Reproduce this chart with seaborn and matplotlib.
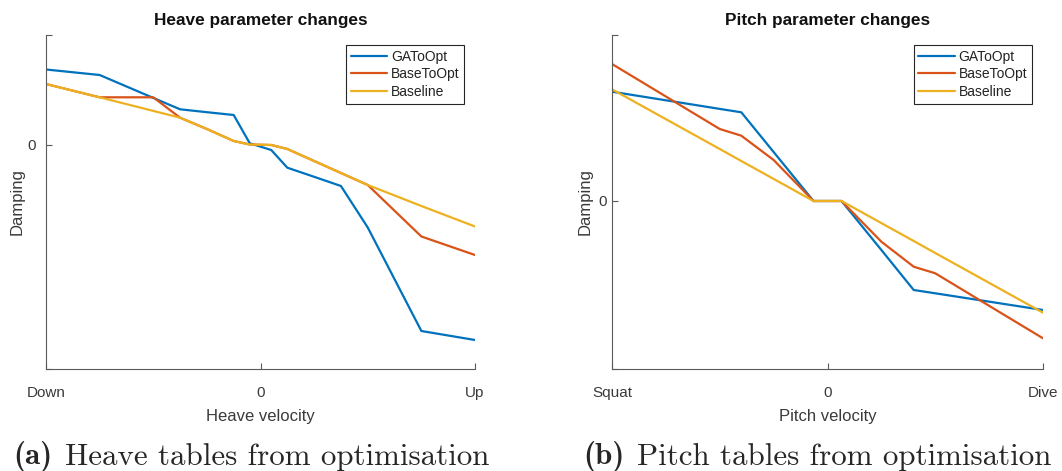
import matplotlib
matplotlib.use("Agg")
import matplotlib.pyplot as plt
import seaborn as sns
import pandas as pd

# ---- data ----
series_names = ["GAToOpt", "BaseToOpt", "Baseline"]
series_colors = ["#0072BD", "#D95319", "#EDB120"]

heave_x = [-1, -0.75, -0.5, -0.375, -0.25, -0.125, -0.05, 0.05, 0.125, 0.25, 0.375, 0.5, 0.75, 1]
heave_ga = [0.755, 0.70, 0.471, 0.357, 0.328, 0.30, 0.017, -0.05, -0.227, -0.318, -0.41, -0.825, -1.86, -1.95]
heave_base_to_opt = [0.61, 0.477, 0.477, 0.273, 0.16, 0.04, 0.005, 0.0, -0.04, -0.16, -0.28, -0.40, -0.915, -1.10]
heave_baseline = [0.61, 0.477, 0.341, 0.273, 0.16, 0.04, 0.005, 0.0, -0.04, -0.16, -0.28, -0.40, -0.61, -0.815]

pitch_x = [-1, -0.5, -0.4, -0.25, -0.065, 0.065, 0.25, 0.4, 0.5, 1]
pitch_ga = [1.093, 0.921, 0.887, 0.49, 0, 0, -0.49, -0.89, -0.923, -1.09]
pitch_base_to_opt = [1.37, 0.72, 0.653, 0.41, 0, 0, -0.407, -0.657, -0.723, -1.373]
pitch_baseline = [1.117, 0.52, 0.40, 0.221, 0, 0, -0.221, -0.40, -0.52, -1.117]

heave_xticklabels = ["Down", "0", "Up"]
pitch_xticklabels = ["Squat", "0", "Dive"]

sns.set_theme(style="white")
plt.rcParams["font.family"] = ["Liberation Sans", "DejaVu Sans"]

fig = plt.figure(figsize=(10.62, 4.71), dpi=100)
W, H = 1062, 471

def px_axes(l, r, t, b):
    return fig.add_axes([l / W, 1 - b / H, (r - l) / W, (b - t) / H])

ax1 = px_axes(46, 475, 35, 369)
ax2 = px_axes(612, 1043, 35, 369)

panels = [
    (ax1, heave_x, [heave_ga, heave_base_to_opt, heave_baseline], (-2.24, 1.10),
     "Heave parameter changes", "Heave velocity", heave_xticklabels, 7),
    (ax2, pitch_x, [pitch_ga, pitch_base_to_opt, pitch_baseline], (-1.68, 1.66),
     "Pitch parameter changes", "Pitch velocity", pitch_xticklabels, 4),
]

axis_col = "#5a5a5a"
text_col = "#3a3a3a"

for ax, xs, ys, ylim, title, xlabel, xtl, ypad in panels:
    frames = []
    for name, vals in zip(series_names, ys):
        frames.append(pd.DataFrame({"x": xs, "y": vals, "series": name}))
    df = pd.concat(frames, ignore_index=True)
    sns.lineplot(data=df, x="x", y="y", hue="series", palette=series_colors,
                 hue_order=series_names, sort=False, linewidth=1.6, ax=ax,
                 estimator=None)
    ax.set_xlim(-1, 1)
    ax.set_ylim(*ylim)
    ax.set_xticks([-1, 0, 1])
    ax.set_xticklabels(xtl)
    ax.set_yticks([ylim[0], 0, ylim[1]])
    ax.set_yticklabels(["", "0", ""])
    ax.tick_params(direction="in", length=4, width=0.8, color=axis_col,
                   labelcolor=text_col, labelsize=11, bottom=True, left=True)
    ax.tick_params(axis="x", pad=12)
    ax.tick_params(axis="y", pad=ypad)
    for s in ["top", "right"]:
        ax.spines[s].set_visible(False)
    for s in ["left", "bottom"]:
        ax.spines[s].set_color(axis_col)
        ax.spines[s].set_linewidth(0.8)
    ax.set_xlabel(xlabel, fontsize=12, color=text_col, labelpad=7)
    ax.set_title(title, fontsize=12.4, fontweight="bold", color="#111111", pad=7)
    leg = ax.legend(loc="upper right", bbox_to_anchor=(0.975, 0.97), borderaxespad=0,
                    fontsize=10, frameon=True, fancybox=False, framealpha=1,
                    handlelength=2.6, handletextpad=0.3, labelspacing=0.25,
                    borderpad=0.35, edgecolor="#262626")
    leg.get_frame().set_linewidth(0.8)
    for t in leg.get_texts():
        t.set_color("#222222")
    for l in leg.get_lines():
        l.set_linewidth(1.6)

# y labels placed at fixed distance from the axis (as in the reference)
ax1.set_ylabel("Damping", fontsize=12, color=text_col)
ax2.set_ylabel("Damping", fontsize=12, color=text_col)
ax1.yaxis.set_label_coords(-(46 - 25) / (475 - 46), 0.5)
ax2.yaxis.set_label_coords(-(612 - 593) / (1043 - 612), 0.5)

# captions
cap_size = 22.3
cap_y = 1 - 457 / H
fig.text(13 / W, cap_y, "(a)", fontfamily="cmb10", fontsize=cap_size, va="center", ha="left")
fig.text(65 / W, cap_y, "Heave tables from optimisation", fontfamily="cmr10", fontsize=cap_size,
         va="center", ha="left")
fig.text(583 / W, cap_y, "(b)", fontfamily="cmb10", fontsize=cap_size, va="center", ha="left")
fig.text(637 / W, cap_y, "Pitch tables from optimisation", fontfamily="cmr10", fontsize=cap_size,
         va="center", ha="left")

fig.savefig("out.png", dpi=100)
